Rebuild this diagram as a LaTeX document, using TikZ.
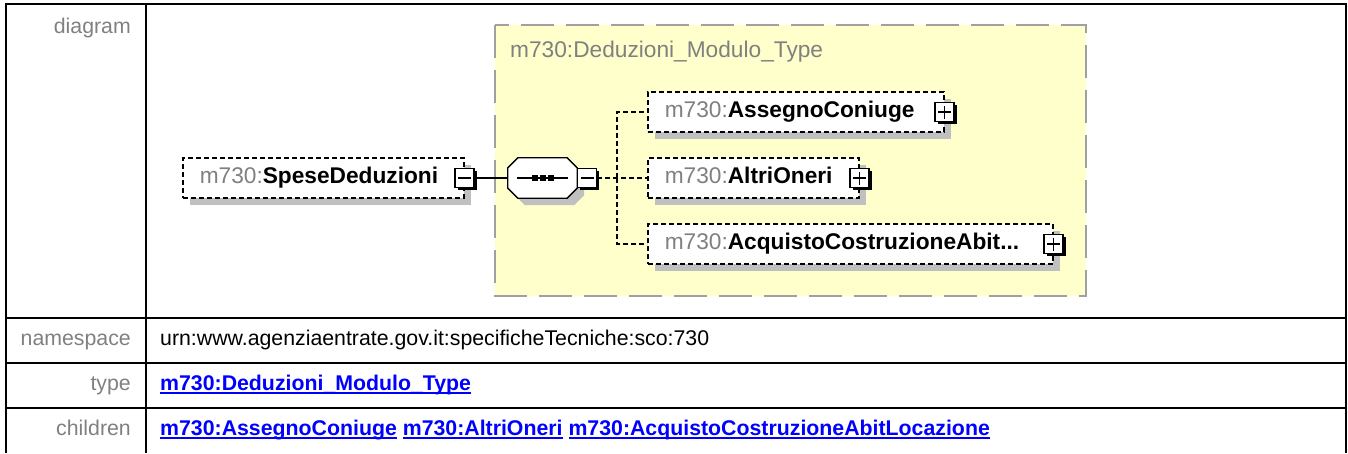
\documentclass[tikz,border=0pt]{standalone}
\usepackage{fontspec}
\setmainfont{Liberation Sans}
\usetikzlibrary{positioning,shadows}

\definecolor{prefixgray}{HTML}{808080}
\definecolor{typeyellow}{HTML}{FFFFCC}
\definecolor{typeborder}{HTML}{A0A0A0}
\definecolor{shadowgray}{HTML}{C0C0C0}
\definecolor{linkblue}{HTML}{0000FF}

\newcommand{\pfx}{\textcolor{prefixgray}{m730:}}
\newcommand{\xlink}[1]{\setbox0=\hbox{\textbf{#1}}\rlap{\rule[-3.2pt]{\wd0}{1.6pt}}\box0\relax}

\begin{document}
\begin{tikzpicture}[
    x=1pt, y=-1pt,
    diag/.style={font=\fontsize{22.7}{27}\selectfont, text height=16pt, text depth=5pt},
    greyshadow/.style={general shadow={fill=shadowgray, shadow xshift=7pt, shadow yshift=-7pt}},
    elem/.style={draw, dash pattern=on 5pt off 3pt, line width=1.5pt, fill=white,
      minimum height=40pt, inner xsep=17pt, inner ysep=0pt, align=left, anchor=west, diag, greyshadow},
    signbox/.style={draw, solid, fill=white, minimum size=19pt, inner sep=0pt, line width=1.2pt,
      general shadow={fill=black, shadow xshift=2.6pt, shadow yshift=-2.6pt}},
    minusbox/.style={signbox, path picture={
      \draw[line width=1.5pt] ([xshift=3pt]path picture bounding box.west) -- ([xshift=-3pt]path picture bounding box.east);}},
    plusbox/.style={signbox, path picture={
      \draw[line width=1.5pt] ([xshift=3pt]path picture bounding box.west) -- ([xshift=-3pt]path picture bounding box.east);
      \draw[line width=1.5pt] ([yshift=-3pt]path picture bounding box.north) -- ([yshift=3pt]path picture bounding box.south);}},
    seqbox/.style={minimum width=69pt, minimum height=40pt, inner sep=0pt},
    octo/.style={draw, fill=white, line width=1.3pt, greyshadow},
    typeframe/.style={fill=typeyellow, draw=typeborder, line width=2.2pt, dash pattern=on 33pt off 12pt},
    typetitle/.style={anchor=west, inner sep=0pt, text=prefixgray, diag},
    wire/.style={line width=1.3pt},
    tree/.style={line width=1.5pt, dash pattern=on 5pt off 3pt},
    grid/.style={line width=2.4pt},
    tabtext/.style={font=\fontsize{21.3}{25}\selectfont, inner sep=0pt, text height=15pt, text depth=4pt},
    rowlabel/.style={tabtext, anchor=east, text=prefixgray},
    rowvalue/.style={tabtext, anchor=west}
  ]
    \useasboundingbox (0,0) rectangle (1348,453);

    % table
    \draw[grid] (6,453) -- (6,4) -- (1346,4) -- (1346,453);
    \draw[grid] (146,4) -- (146,453);
    \foreach \y in {318,363,408}
      \draw[grid] (6,\y) -- (1346,\y);

    \node[rowlabel] (lbldiagram) at (131,28) {diagram};
    \node[rowlabel] (lblns) at (131,340) {namespace};
    \node[rowlabel] (lbltype) at (131,385) {type};
    \node[rowlabel] (lblchildren) at (131,430) {children};

    \node[rowvalue] (valns) at (160,340) {urn:www.agenziaentrate.gov.it:specificheTecniche:sco:730};
    \node[rowvalue, text=linkblue] (valtype) at (160,385) {\xlink{m730:Deduzioni\_Modulo\_Type}};
    \node[rowvalue, text=linkblue] (valchildren) at (160,430)
      {\xlink{m730:AssegnoConiuge} \xlink{m730:AltriOneri} \xlink{m730:AcquistoCostruzioneAbitLocazione}};

    % complex type frame
    \draw[typeframe] (495,25) rectangle (1086,296);
    \node[typetitle] (modtitle) at (510,52) {m730:Deduzioni\_Modulo\_Type};

    % element and sequence
    \node[elem, text width=247pt] (spese) at (182,178) {\pfx\textbf{SpeseDeduzioni}};
    \node[minusbox] (spesesign) at (spese.east) {};
    \node[seqbox] (seq) at (542.5,178) {};
    \draw[octo] ([xshift=10pt]seq.north west) -- ([xshift=-10pt]seq.north east)
      -- ([yshift=-10pt]seq.north east) -- ([yshift=10pt]seq.south east)
      -- ([xshift=-10pt]seq.south east) -- ([xshift=10pt]seq.south west)
      -- ([yshift=10pt]seq.south west) -- ([yshift=-10pt]seq.north west) -- cycle;
    \draw[wire] ([xshift=9pt]seq.west) -- ([xshift=-9pt]seq.east);
    \foreach \dx in {-8,0,8}
      \fill ([xshift=\dx pt]seq.center) ++(-3pt,-3pt) rectangle ++(6pt,6pt);
    \node[minusbox, right=0pt of seq] (seqsign) {};
    \draw[wire] (spesesign) -- (seq);

    % children
    \node[elem, text width=262pt] (assegno) at (647,112) {\pfx\textbf{AssegnoConiuge}};
    \node[plusbox] (assegnosign) at (assegno.east) {};
    \node[elem, text width=177pt] (altri) at (647,178) {\pfx\textbf{AltriOneri}};
    \node[plusbox] (altrisign) at (altri.east) {};
    \node[elem, text width=371pt] (acquisto) at (647,244) {\pfx\textbf{AcquistoCostruzioneAbit...}};
    \node[plusbox] (acquistosign) at (acquisto.east) {};

    \coordinate (fork) at (617,178);
    \draw[tree] (seqsign.east) -- (altri.west);
    \draw[tree] (fork) |- (assegno.west);
    \draw[tree] (fork) |- (acquisto.west);
  \end{tikzpicture}
\end{document}
